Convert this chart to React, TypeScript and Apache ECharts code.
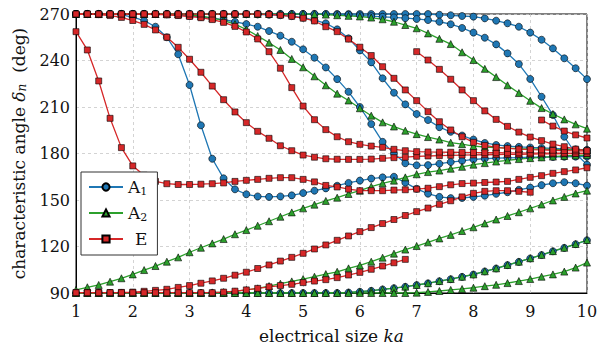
import React, { useEffect, useRef } from "react";
import * as echarts from "echarts";

const KA = [1, 1.2, 1.4, 1.6, 1.8, 2, 2.2, 2.4, 2.6, 2.8, 3, 3.2, 3.4, 3.6, 3.8, 4, 4.2, 4.4, 4.6, 4.8, 5, 5.2, 5.4, 5.6, 5.8, 6, 6.2, 6.4, 6.6, 6.8, 7, 7.2, 7.4, 7.6, 7.8, 8, 8.2, 8.4, 8.6, 8.8, 9, 9.2, 9.4, 9.6, 9.8, 10];

const X_TICKS = [1, 2, 3, 4, 5, 6, 7, 8, 9, 10];
const Y_TICKS = [90, 120, 150, 180, 210, 240, 270];

// ---- mode A1 ----
const A1_1 = [270, 270, 270, 270, 269.5, 268, 265.7, 261.8, 255, 244, 224.2, 198.2, 176.6, 164, 156.9, 153.7, 152.3, 152, 152.3, 153, 154.5, 156, 157.5, 159.2, 161, 162.5, 163.8, 164.6, 165, 161.2, 157.2, 154.1, 152, 151.2, 151.3, 152, 152.8, 154, 155, 156.6, 158, 159.6, 160.8, 161.5, 160.8, 159.3];
const A1_2 = [270, 270, 270, 270, 270, 270, 270, 270, 269.8, 269.5, 268.8, 268.1, 267.3, 266.3, 265, 263.5, 261.8, 259, 256, 252.1, 247.2, 241.8, 235.5, 228, 219.8, 210, 199, 187.5, 180, 173.7, 172.4, 172.5, 173.4, 174.5, 175.3, 176.2, 176.6, 177, 177.2, 177.4, 177.6, 177.7, 177.8, 177.9, 178, 178];
const A1_3 = [270, 270, 270, 270, 270, 270, 270, 270, 270, 270, 270, 270, 270, 270, 269.9, 269.8, 269.7, 269.5, 269.2, 268.6, 267.6, 266, 264, 260.1, 254.3, 246.5, 238.8, 228.5, 219.2, 211.7, 205.5, 201.6, 197, 194, 191.6, 189, 186.8, 185.5, 184.8, 184.3, 183.9, 183.6, 183.3, 183, 182.7, 182.4];
const A1_4 = [270, 270, 270, 270, 270, 270, 270, 270, 270, 270, 270, 270, 270, 270, 270, 270, 270, 270, 270, 270, 270, 270, 270, 270, 270, 270, 270, 270, 270, 270, 270, 270, 269.5, 269.2, 268.7, 268.3, 267.2, 265.7, 264, 261.8, 258, 253.4, 247.8, 241.4, 235, 228];
const A1_5 = [270, 270, 270, 270, 270, 270, 270, 270, 270, 270, 270, 270, 270, 270, 270, 270, 270, 270, 270, 270, 270, 270, 269.9, 269.7, 269.5, 269.1, 268.6, 268.2, 267.8, 267.3, 266.8, 266.1, 265, 263.4, 261, 258, 254.7, 250.4, 244.6, 237.7, 228.1, 216.6, 204.8, 190.8, 180, 172.8];
const A1_6 = [90, 90, 90, 90, 90, 90, 90, 90, 90, 90, 90, 90, 90, 90, 90, 90, 90, 90, 90, 90, 90, 90, 90, 90, 90.3, 90.8, 91.4, 92.3, 93.1, 94, 95.1, 96.2, 97.6, 98.9, 100.4, 101.9, 103.9, 105.8, 108, 110.1, 112.3, 114.5, 116.9, 119.1, 121.5, 124];

// ---- mode A2 ----
const A2_1 = [92, 93.7, 95.2, 97.3, 99.5, 102, 104.8, 107.4, 110.2, 113, 116.3, 119.2, 122, 124.8, 127.9, 130.6, 133.4, 136.3, 139.2, 142, 144.6, 147, 149.4, 151.5, 153.9, 156, 158.6, 160.8, 162.5, 164.6, 166.6, 168, 169, 170.2, 171.4, 172.8, 173.8, 174.8, 175.6, 176.4, 177, 177.5, 178, 178.4, 178.7, 179];
const A2_2 = [270, 270, 270, 270, 270, 270, 270, 270, 270, 269.8, 269.4, 268.6, 267.5, 265.8, 263.5, 260, 255.8, 251.5, 246.8, 241, 235.6, 229.8, 224, 218.6, 214.2, 209.2, 204.4, 200.1, 197.4, 194.7, 192.5, 190.6, 189, 187, 186, 184.8, 184.2, 183.8, 183.5, 183.2, 183, 182.8, 182.6, 182.5, 182.4, 182.3];
const A2_3 = [270, 270, 270, 270, 270, 270, 270, 270, 270, 270, 270, 270, 270, 270, 270, 270, 270, 270, 270, 270, 270, 269.9, 269.6, 269.2, 268.8, 268.4, 267.7, 266.6, 265, 262.9, 260.8, 257.5, 254, 250.6, 245.3, 240.3, 234.6, 229.3, 224, 219, 214, 209.3, 205.5, 202, 198.8, 196];
const A2_4 = [90.3, 90.3, 90.3, 90.3, 90.3, 90.3, 90.3, 90.3, 90.3, 90.3, 90.3, 90.3, 90.4, 90.6, 91, 92, 93, 94.5, 96, 97.5, 99, 100.5, 102.2, 103.7, 105.9, 107.8, 110.2, 112.8, 115.4, 118, 120.3, 122.7, 125.2, 127.5, 130, 132.4, 134.9, 137.4, 139.7, 142.1, 144.6, 147.1, 149.7, 152, 154.2, 156];
const A2_5 = [90.1, 90.1, 90.1, 90.1, 90.1, 90.1, 90.1, 90.1, 90.1, 90.1, 90.1, 90.1, 90.1, 90.1, 90.1, 90.1, 90.1, 90.1, 90.1, 90.1, 90.1, 90.1, 90.2, 90.2, 90.4, 90.9, 91.5, 92.4, 93.2, 94.1, 95.2, 96.3, 97.7, 99, 100.5, 102, 104, 105.9, 108.1, 110.2, 112.4, 114.6, 117, 119.2, 121.6, 124.2];
const A2_6 = [90, 90, 90, 90, 90, 90, 90, 90, 90, 90, 90, 90, 90, 90, 90, 90, 90, 90, 90, 90, 90, 90, 90, 90, 90, 90, 90, 90, 90, 90, 90.2, 90.7, 91.3, 92, 92.6, 93.4, 94.4, 95.3, 96.4, 97.7, 99, 100.5, 102, 103.8, 106.4, 109.6];

// ---- mode E ----
const E_1 = [258.6, 246.8, 226.8, 202.7, 183.8, 172, 166, 162, 160.5, 160, 160, 160.2, 160.5, 161, 162, 162.7, 163.3, 164, 164.4, 164.4, 163.3, 161.7, 159.4, 158.4, 157, 156, 156, 156, 156.4, 156.6, 157, 157.6, 158.6, 159.8, 160.6, 160.9, 161.3, 161.6, 162, 163.3, 164.6, 165.7, 167.2, 168.3, 169.4, 170.8];
const E_2 = [270, 269.9, 269.6, 269, 267.8, 265.8, 263.3, 259.7, 255, 248.5, 240.8, 232.4, 223.5, 214.7, 206.8, 199.9, 194.3, 189.8, 185, 181.8, 179, 177.6, 176.6, 176.3, 176.2, 176.2, 176.4, 176.9, 177.3, 177.6, 178.2, 178.4, 178.6, 178.8, 179, 179.1, 179.2, 179.3, 179.4, 179.5, 179.6, 179.7, 179.8, 179.9, 180, 180];
const E_3 = [270, 270, 270, 270, 270, 270, 269.9, 269.7, 269.4, 269, 268.4, 267.6, 266.4, 264.6, 262, 258.4, 253.9, 245.7, 235, 222.5, 210.6, 201.8, 195.4, 190.8, 187.6, 185.9, 184.8, 184, 182.7, 181.8, 181.2, 181, 180.9, 180.8, 180.7, 180.6, 180.5, 180.5, 180.4, 180.4, 180.3, 180.3, 180.2, 180.2, 180.1, 180.1];
const E_4 = [270, 270, 270, 270, 270, 270, 270, 270, 270, 270, 270, 270, 270, 270, 270, 270, 270, 269.7, 269.2, 268.5, 267.3, 265.5, 261.8, 258.6, 253.8, 248.6, 243.2, 236, 228.5, 221, 214.1, 207, 200.5, 195.2, 190.8, 187.2, 185.2, 184, 183.3, 182.8, 182.5, 182.3, 182.1, 181.9, 181.7, 181.6];
const E_5 = [null, null, null, null, null, null, null, null, null, null, null, null, null, null, null, null, null, null, null, null, null, null, null, null, null, null, null, null, null, null, 245.7, 240.3, 234.3, 227.9, 221, 214.1, 207.5, 202, 197.5, 193.8, 190.6, 188.3, 186.1, 184.4, 182.8, 181.8];
const E_6 = [null, null, null, null, null, null, null, null, null, null, null, null, null, null, null, null, null, null, null, null, null, null, null, null, null, null, null, null, null, null, null, null, null, null, null, null, null, null, null, null, null, 201.6, 197.7, 194.5, 192, 190];
const E_7 = [90.3, 90.3, 90.3, 90.3, 90.4, 90.6, 91.1, 91.7, 92.4, 93.6, 94.8, 96.3, 97.8, 99.5, 101.5, 103.4, 105.8, 108.1, 110.6, 113, 115.6, 118.4, 121, 124, 126.8, 129.6, 132.2, 134.8, 137.4, 140, 142.5, 144.8, 147.2, 149.5, 152, 154.3, 155.6, 156, 156, 155.6, 155, null, null, null, null, null];
const E_8 = [90.2, 90.2, 90.2, 90.2, 90.2, 90.2, 90.2, 90.2, 90.2, 90.2, 90.2, 90.2, 90.2, 90.6, 91.2, 92, 93, 94, 94.8, 95.6, 96.7, 97.7, 98.6, 99.9, 101.6, 103.3, 105.3, 107.4, 109.5, 111.7, null, null, null, null, null, null, null, null, null, null, null, null, null, null, null, null];

const A1_SET = [A1_1, A1_2, A1_3, A1_4, A1_5, A1_6];
const A2_SET = [A2_1, A2_2, A2_3, A2_4, A2_5, A2_6];
const E_SET = [E_1, E_2, E_3, E_4, E_5, E_6, E_7, E_8];

const FONT = "DejaVu Serif";
const BLUE = "#1f77b4";
const GREEN = "#2ca02c";
const RED = "#d62728";

function mk(name: string, arr: (number | null)[], color: string, symbol: string, size: number) {
  return {
    type: "line",
    name,
    data: KA.map((x, i) => [x, arr[i]]).filter((p) => p[1] !== null),
    symbol,
    symbolSize: size,
    showAllSymbol: true,
    lineStyle: { color, width: 1.3 },
    itemStyle: { color, borderColor: "#000", borderWidth: 0.6 },
    emphasis: { disabled: true },
  };
}

export default function App() {
  const ref = useRef<HTMLDivElement>(null);
  useEffect(() => {
    const chart = echarts.init(ref.current!, null, { renderer: "svg" });
    const series: any[] = [
      ...A1_SET.map((a) => mk("A1", a, BLUE, "circle", 7)),
      ...A2_SET.map((a) => mk("A2", a, GREEN, "triangle", 7)),
      ...E_SET.map((a) => mk("E", a, RED, "rect", 6)),
    ];
    const option: any = {
      animation: false,
      backgroundColor: "#fff",
      grid: {
        left: 76,
        right: 11,
        top: 14,
        bottom: 53,
        show: true,
        borderColor: "#000",
        borderWidth: 1,
        containLabel: false,
        outerBoundsMode: "none",
      },
      legend: {
        orient: "vertical",
        left: 81,
        top: 172,
        data: ["A1", "A2", "E"],
        itemWidth: 34,
        itemHeight: 9,
        itemGap: 6,
        padding: [5, 10, 6, 7],
        backgroundColor: "#fff",
        borderColor: "#333",
        borderWidth: 1,
        formatter: (n: string) => (n === "A1" ? "A{s|1}" : n === "A2" ? "A{s|2}" : "{e|E}"),
        textStyle: {
          fontFamily: FONT,
          fontSize: 17,
          color: "#111",
          lineHeight: 20,
          rich: {
            s: { fontFamily: FONT, fontSize: 11, color: "#111", verticalAlign: "bottom", lineHeight: 20, padding: [6, 0, 0, 0] },
            e: { fontFamily: FONT, fontSize: 17, color: "#111", padding: [0, 0, 0, 7] },
          },
        },
      },
      xAxis: {
        type: "value",
        min: X_TICKS[0],
        max: X_TICKS[X_TICKS.length - 1],
        interval: 1,
        name: "electrical size {it|ka}",
        nameLocation: "middle",
        nameGap: 34,
        nameTextStyle: {
          fontFamily: FONT,
          fontSize: 17,
          color: "#111",
          rich: { it: { fontFamily: FONT, fontSize: 17, fontStyle: "italic", color: "#111" } },
        },
        axisLine: { show: true, lineStyle: { color: "#000", width: 1 } },
        axisTick: { show: false },
        axisLabel: { fontFamily: FONT, fontSize: 16, color: "#111", margin: 10 },
        splitLine: { show: true, lineStyle: { color: "#c8c8c8", type: [3, 3], width: 0.8 } },
      },
      yAxis: {
        type: "value",
        min: Y_TICKS[0],
        max: Y_TICKS[Y_TICKS.length - 1],
        interval: 30,
        name: "characteristic angle {it|δ}{sub|n}  (deg)",
        nameLocation: "middle",
        nameGap: 48,
        nameTextStyle: {
          fontFamily: FONT,
          fontSize: 17,
          color: "#111",
          rich: {
            it: { fontFamily: FONT, fontSize: 17, fontStyle: "italic", color: "#111" },
            sub: { fontFamily: FONT, fontSize: 12, fontStyle: "italic", color: "#111", verticalAlign: "bottom", padding: [6, 0, 0, 0] },
          },
        },
        axisLine: { show: true, lineStyle: { color: "#000", width: 1 } },
        axisTick: { show: false },
        axisLabel: { fontFamily: FONT, fontSize: 16, color: "#111", margin: 6 },
        splitLine: { show: true, lineStyle: { color: "#c8c8c8", type: [3, 3], width: 0.8 } },
      },
      series,
    };
    chart.setOption(option);
    return () => chart.dispose();
  }, []);
  return (
    <div
      ref={ref}
      style={{ position: "fixed", left: 0, top: 0, width: 598, height: 346, background: "#fff" }}
    />
  );
}
